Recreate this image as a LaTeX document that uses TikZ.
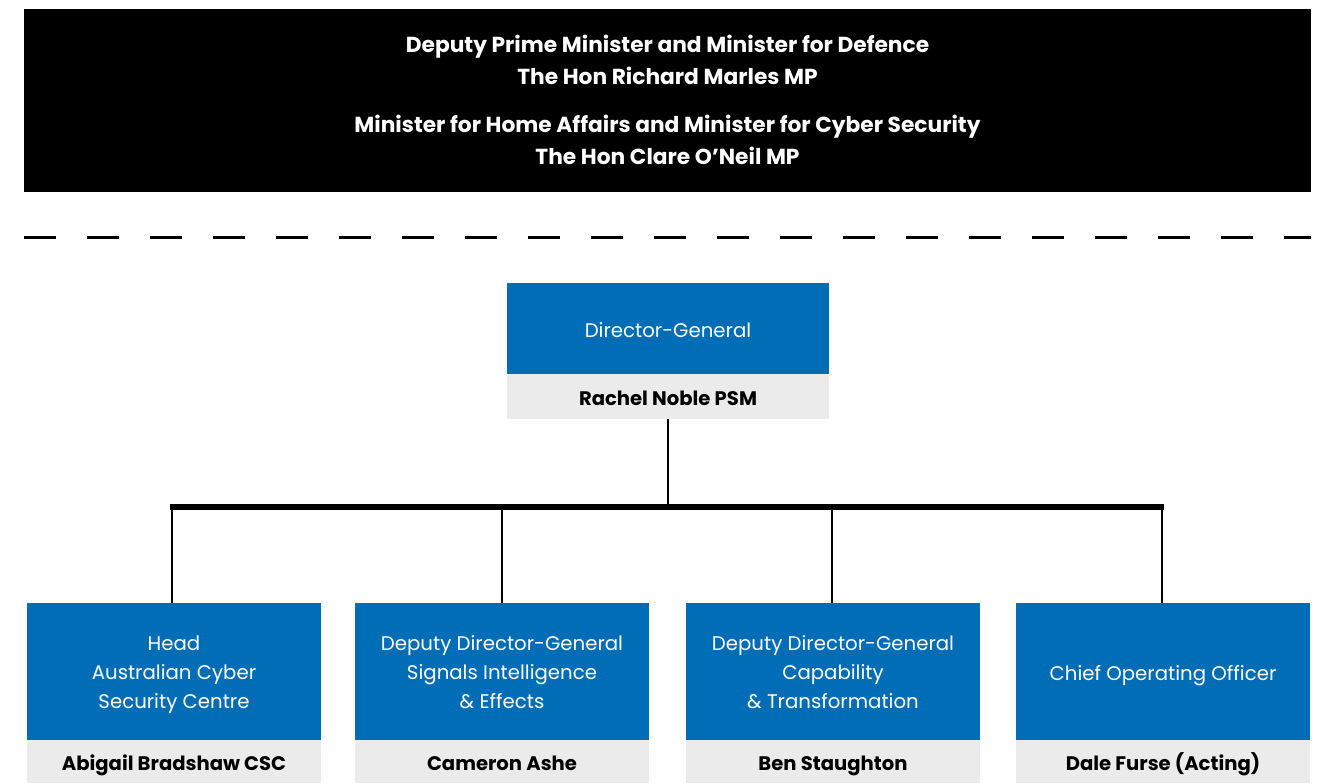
\documentclass[tikz,border=0pt]{standalone}
\usepackage{fontspec}
\setmainfont{Poppins}
\definecolor{asdblue}{RGB}{0,109,182}
\definecolor{asdgray}{RGB}{235,235,235}
\begin{document}
\begin{tikzpicture}[x=0.75pt,y=-0.75pt,
  topbox/.style={fill=black,text=white,minimum width=965.25pt,minimum height=137.25pt,inner sep=0pt,align=center,font=\bfseries\fontsize{16.3}{24}\selectfont},
  rolebox/.style={fill=asdblue,text=white,minimum width=220.5pt,inner sep=0pt,align=center,font=\fontsize{14.8}{21.75}\selectfont},
  multi/.style={text height=55.4pt,text depth=0pt},
  single/.style={text height=15pt,text depth=1.5pt},
  namebox/.style={fill=asdgray,text=black,minimum width=220.5pt,minimum height=32.25pt,inner sep=0pt,align=center,single,font=\bfseries\fontsize{14.7}{21.75}\selectfont},
  link/.style={line width=1.5pt},
  barline/.style={line width=4.5pt}]
\useasboundingbox (0,0) rectangle (1326,783);
% ministers
\node[topbox] (min) at (667.5,100) {Deputy Prime Minister and Minister for Defence\\The Hon Richard Marles MP\\[12pt]Minister for Home Affairs and Minister for Cyber Security\\The Hon Clare O’Neil MP};
% dashed separator
\coordinate (dl) at (24,237);
\coordinate (dr) at (1311,237);
\draw[line width=2.25pt,dash pattern=on 24pt off 23.25pt] (dl) -- (dr);
% director-general
\node[rolebox,single,minimum width=241.5pt,minimum height=68.25pt] (dg) at (668,328.5) {Director-General};
\node[namebox,minimum width=241.5pt,minimum height=33.75pt] (dgn) at (668,396.5) {Rachel Noble PSM};
% bottom row
\node[rolebox,multi,minimum height=102.75pt] (r1) at (174,671.5) {Head\\Australian Cyber\\Security Centre};
\node[namebox] (n1) at (174,761.5) {Abigail Bradshaw CSC};
\node[rolebox,multi,minimum height=102.75pt] (r2) at (502,671.5) {Deputy Director-General\\Signals Intelligence\\\& Effects};
\node[namebox] (n2) at (502,761.5) {Cameron Ashe};
\node[rolebox,multi,minimum height=102.75pt] (r3) at (833,671.5) {Deputy Director-General\\Capability\\\& Transformation};
\node[namebox] (n3) at (833,761.5) {Ben Staughton};
\node[rolebox,single,minimum height=102.75pt] (r4) at (1163,671.5) {Chief Operating Officer};
\node[namebox] (n4) at (1163,761.5) {Dale Furse (Acting)};
% connectors
\coordinate (b1) at (172,507);
\coordinate (b2) at (502,507);
\coordinate (b3) at (832,507);
\coordinate (b4) at (1162,507);
\coordinate (bc) at (668,507);
\draw[link] (dgn.south) -- (bc);
\draw[barline] ([xshift=-1.5pt]b1) -- ([xshift=1.5pt]b4);
\draw[link] (b1) -- (b1 |- r1.north);
\draw[link] (b2) -- (b2 |- r2.north);
\draw[link] (b3) -- (b3 |- r3.north);
\draw[link] (b4) -- (b4 |- r4.north);
\end{tikzpicture}
\end{document}
